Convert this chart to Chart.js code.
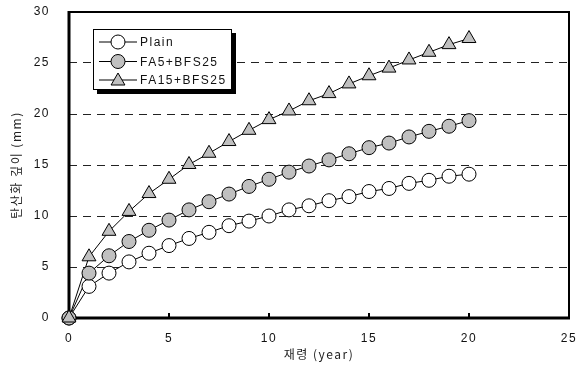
<!DOCTYPE html>
<html>
<head>
<meta charset="utf-8">
<script src="https://cdn.jsdelivr.net/npm/chart.js@4/dist/chart.umd.min.js"></script>
<style>
  html, body { margin: 0; padding: 0; background: #fff; }
  #wrap { width: 581px; height: 365px; }
</style>
</head>
<body>
<div id="wrap"><canvas id="c" width="581" height="365"></canvas></div>
<script>
// Carbonation depth (mm) against age (years)
const years = [0, 1, 2, 3, 4, 5, 6, 7, 8, 9, 10, 11, 12, 13, 14, 15, 16, 17, 18, 19, 20];
const plain = [0, 3.1, 4.4, 5.5, 6.35, 7.1, 7.8, 8.4, 9.05, 9.5, 10.0, 10.6, 11.0, 11.5, 11.9, 12.4, 12.7, 13.2, 13.5, 13.9, 14.1];
const fa5bfs25 = [0, 4.4, 6.1, 7.5, 8.6, 9.6, 10.6, 11.4, 12.15, 12.9, 13.6, 14.3, 14.9, 15.5, 16.1, 16.7, 17.15, 17.75, 18.3, 18.8, 19.35];
const fa15bfs25 = [0, 6.0, 8.5, 10.45, 12.2, 13.6, 15.05, 16.15, 17.3, 18.4, 19.45, 20.3, 21.3, 22.0, 22.95, 23.75, 24.5, 25.3, 26.05, 26.8, 27.4];
const seriesNames = ['Plain', 'FA5+BFS25', 'FA15+BFS25'];
const xTitle = '재령 (year)';
const yTitle = '탄산화 깊이 (mm)';

const GRAY = '#c0c0c0';
const CLEAR = 'rgba(0,0,0,0)';
const pts = (ys) => years.map((x, i) => ({ x: x, y: ys[i] }));

const styles = [
  { fill: '#ffffff', shape: 'circle', r: 7 },
  { fill: GRAY, shape: 'circle', r: 7 },
  { fill: GRAY, shape: 'triangle', r: 8 }
];

function marker(ctx, shape, x, y, r, fill) {
  ctx.save();
  ctx.beginPath();
  if (shape === 'circle') {
    ctx.arc(x, y, r, 0, Math.PI * 2);
  } else {
    const h = r * Math.sqrt(3) / 2;
    ctx.moveTo(x, y - r);
    ctx.lineTo(x + h, y + r / 2);
    ctx.lineTo(x - h, y + r / 2);
    ctx.closePath();
  }
  ctx.fillStyle = fill;
  ctx.fill();
  ctx.lineWidth = 1;
  ctx.strokeStyle = '#000';
  ctx.stroke();
  ctx.restore();
}

const textSpacing = {
  id: 'textSpacing',
  beforeDraw(chart) { chart.ctx.letterSpacing = '1.5px'; }
};

// Heavy frame, inward x ticks, then the point markers on top
const frameAndMarkers = {
  id: 'frameAndMarkers',
  afterDatasetsDraw(chart) {
    const ctx = chart.ctx;
    const a = chart.chartArea;
    const sx = chart.scales.x;
    ctx.save();
    ctx.setLineDash([]);
    ctx.strokeStyle = '#000';
    ctx.lineWidth = 2;
    ctx.strokeRect(a.left, a.top, a.right - a.left, a.bottom - a.top);
    ctx.lineWidth = 3;
    ctx.beginPath();
    ctx.moveTo(a.left, a.top - 1);
    ctx.lineTo(a.left, a.bottom);
    ctx.lineTo(a.right + 1, a.bottom);
    ctx.stroke();
    ctx.lineWidth = 2;
    [5, 10, 15, 20].forEach(v => {
      const px = sx.getPixelForValue(v);
      ctx.beginPath();
      ctx.moveTo(px, a.bottom);
      ctx.lineTo(px, a.bottom - 5);
      ctx.stroke();
    });
    ctx.restore();

    [0, 1, 2].forEach(i => {
      const meta = chart.getDatasetMeta(i);
      meta.data.forEach(el => marker(ctx, styles[i].shape, el.x, el.y, styles[i].r, styles[i].fill));
    });
  }
};

// Boxed legend with drop shadow
const boxLegend = {
  id: 'boxLegend',
  afterDraw(chart) {
    const ctx = chart.ctx;
    const bx = 93, by = 29, bw = 139, bh = 61;
    ctx.save();
    ctx.fillStyle = '#000';
    ctx.fillRect(bx + 4, by + 4, bw, bh);
    ctx.fillStyle = '#fff';
    ctx.fillRect(bx, by, bw, bh);
    ctx.strokeStyle = '#000';
    ctx.lineWidth = 1;
    ctx.strokeRect(bx + 0.5, by + 0.5, bw - 1, bh - 1);
    const rows = [42, 61.5, 80];
    seriesNames.forEach((name, i) => {
      const y = rows[i];
      ctx.beginPath();
      ctx.moveTo(99, y);
      ctx.lineTo(137, y);
      ctx.lineWidth = 1;
      ctx.strokeStyle = '#000';
      ctx.stroke();
      marker(ctx, styles[i].shape, 118, y + (styles[i].shape === 'triangle' ? 1 : 0), styles[i].r, styles[i].fill);
      ctx.fillStyle = '#111';
      ctx.font = '12px "Liberation Sans", Arial, sans-serif';
      ctx.textBaseline = 'middle';
      ctx.textAlign = 'left';
      ctx.letterSpacing = '1.5px';
      ctx.fillText(name, 140, y + 1);
    });
    ctx.restore();
  }
};

const datasets = [plain, fa5bfs25, fa15bfs25].map((ys, i) => ({
  label: seriesNames[i],
  data: pts(ys),
  borderColor: '#000',
  borderWidth: 1,
  tension: 0,
  pointRadius: 0,
  pointHoverRadius: 0,
  pointHitRadius: 0,
  clip: false,
  order: 2 - i
}));

new Chart(document.getElementById('c'), {
  type: 'line',
  data: { datasets: datasets },
  options: {
    responsive: false,
    animation: false,
    layout: { padding: { left: 0, right: 12, top: 12, bottom: 0 } },
    plugins: { legend: { display: false }, tooltip: { enabled: false } },
    scales: {
      x: {
        type: 'linear', min: 0, max: 25,
        ticks: { stepSize: 5, padding: 3, color: '#111', font: { family: '"Liberation Sans", Arial, sans-serif', size: 12 }, maxRotation: 0 },
        grid: { display: true, drawOnChartArea: false, drawTicks: true, tickLength: 10, color: CLEAR, tickColor: CLEAR },
        border: { display: false },
        title: { display: true, text: xTitle, color: '#222', font: { family: '"Noto Sans CJK KR", sans-serif', size: 12 }, padding: { top: 0, bottom: 3 } },
        afterFit(s) { s.height = 47; }
      },
      y: {
        min: 0, max: 30,
        ticks: { stepSize: 5, padding: 3, color: '#111', font: { family: '"Liberation Sans", Arial, sans-serif', size: 12 } },
        grid: {
          drawTicks: true,
          tickLength: 16,
          tickColor: CLEAR,
          lineWidth: 1,
          color: (c) => (c.tick && (c.tick.value === 0 || c.tick.value === 30)) ? CLEAR : '#222'
        },
        border: { display: false, dash: [8, 6] },
        title: { display: true, text: yTitle, color: '#222', font: { family: '"Noto Sans CJK KR", sans-serif', size: 12 }, padding: { top: 9, bottom: 10 } },
        afterFit(s) { s.width = 69; }
      }
    }
  },
  plugins: [textSpacing, frameAndMarkers, boxLegend]
});
</script>
</body>
</html>
